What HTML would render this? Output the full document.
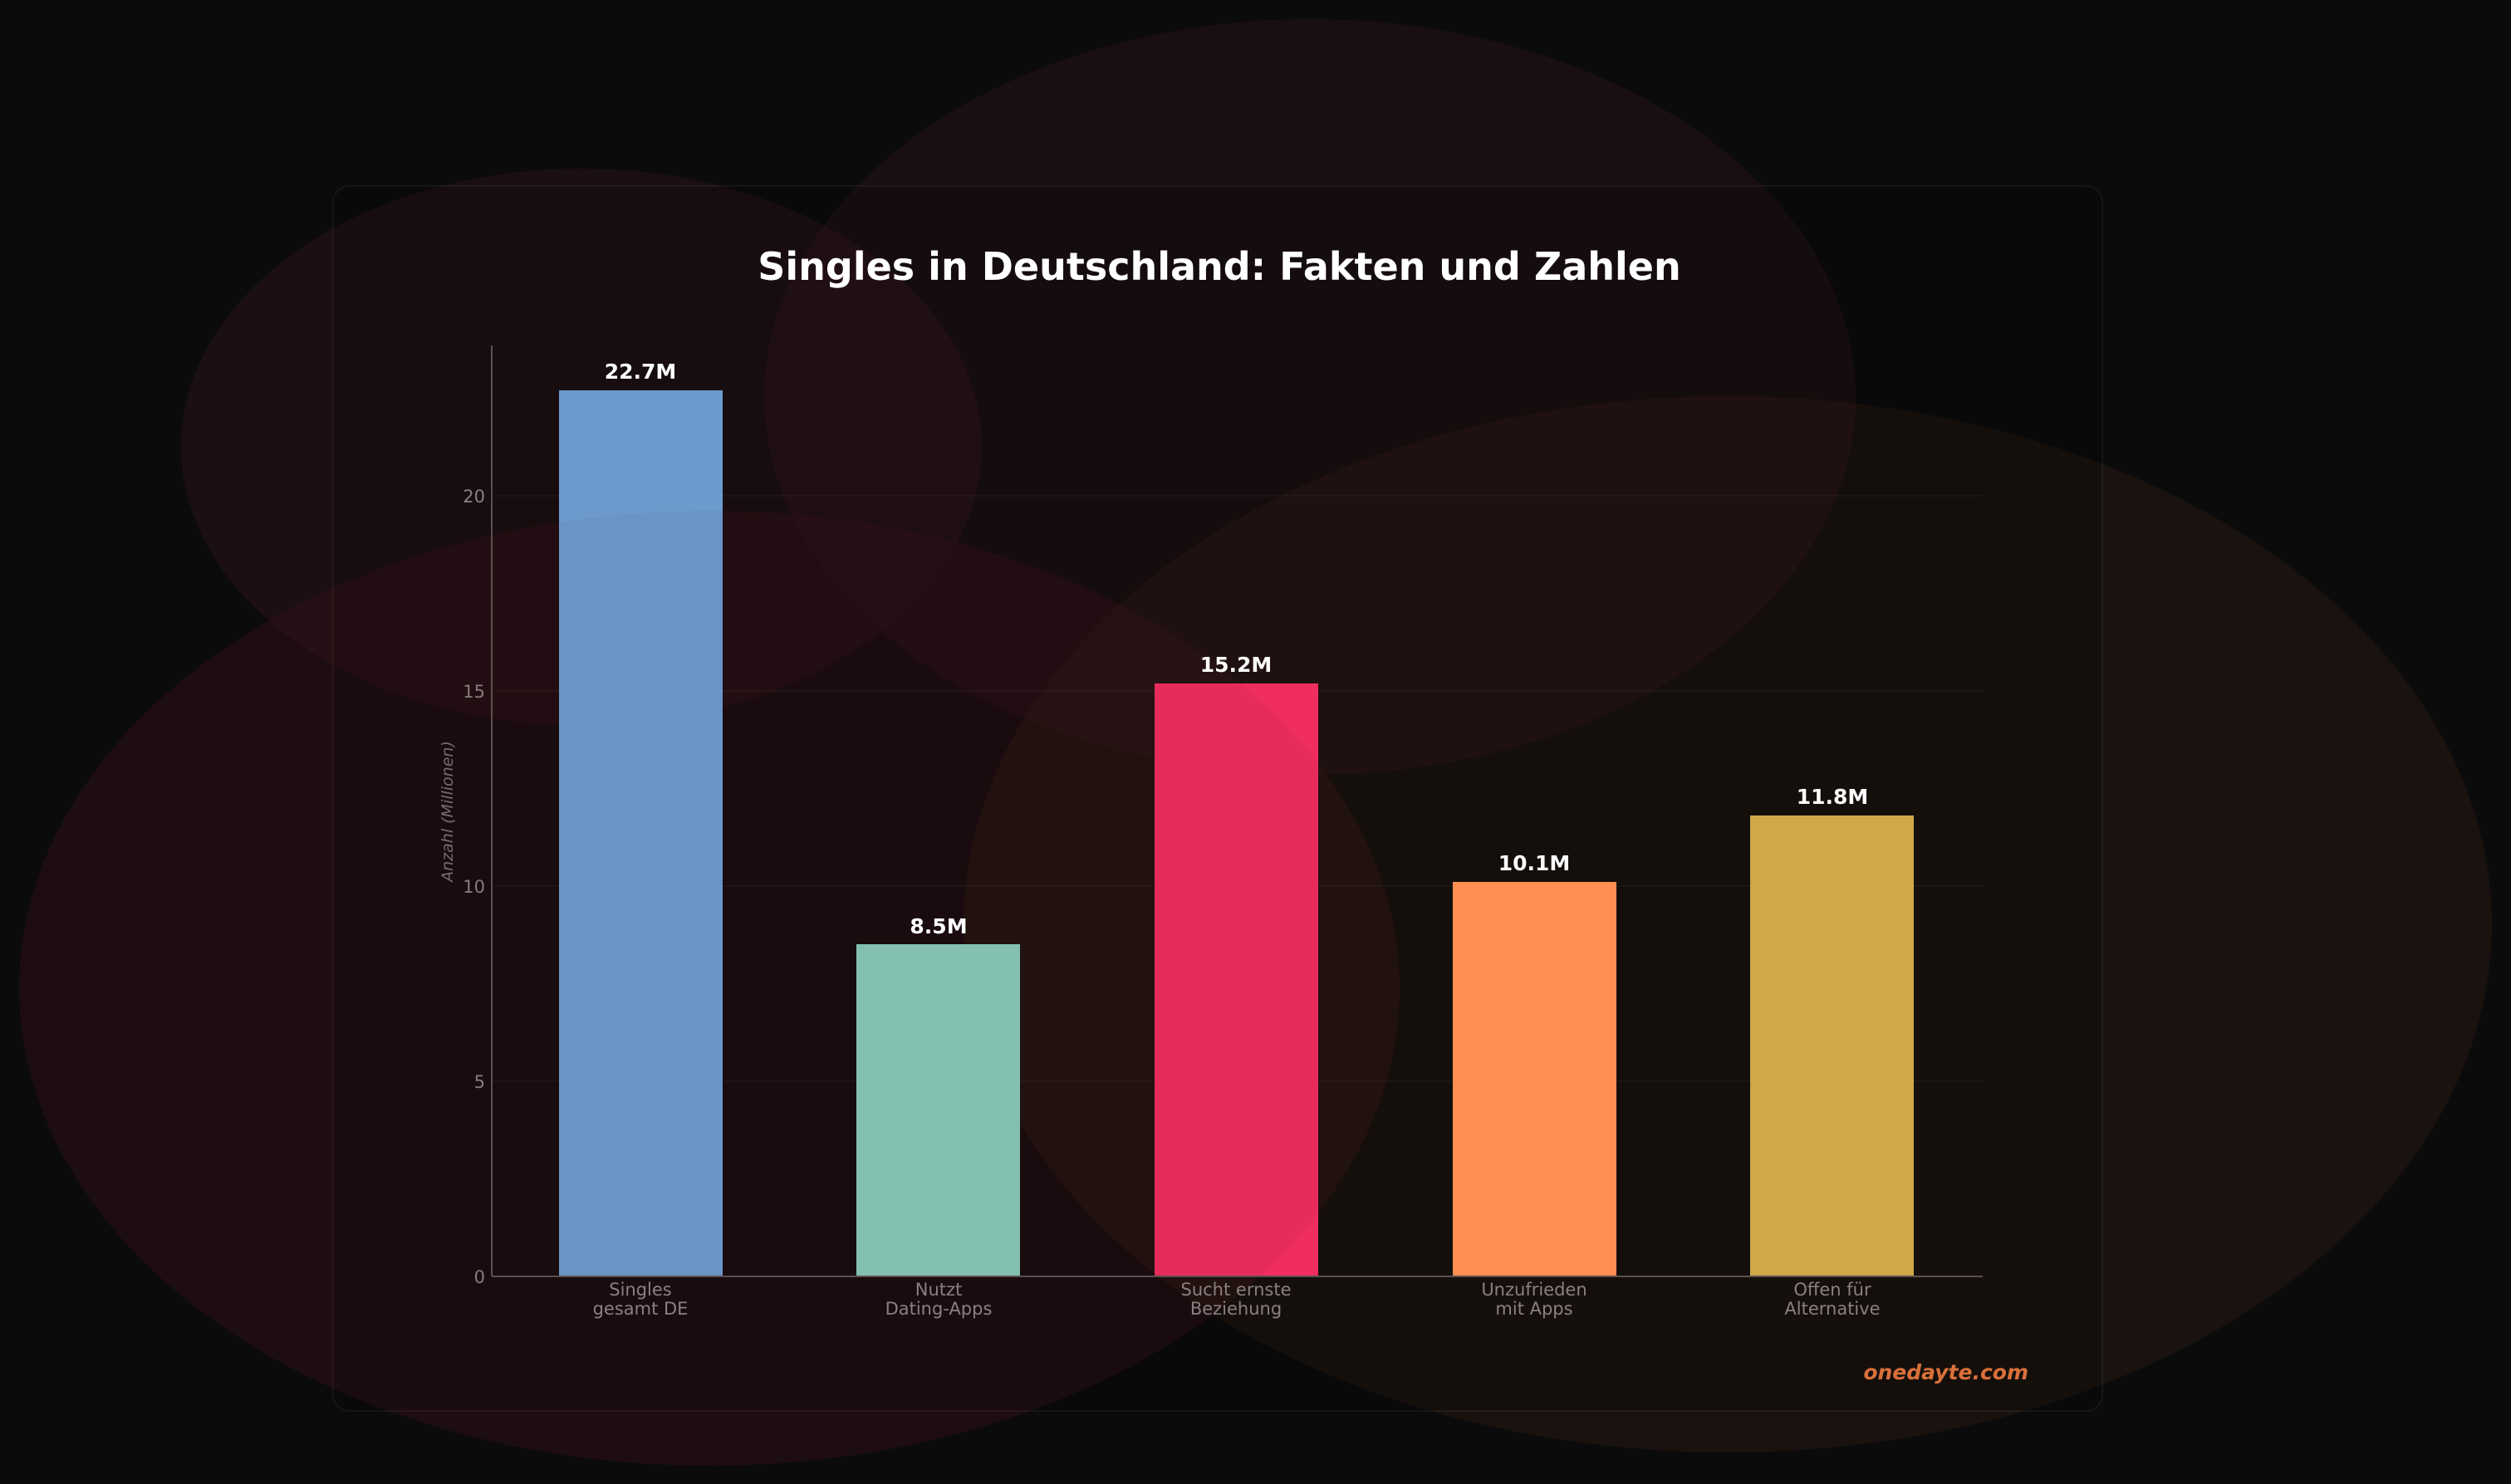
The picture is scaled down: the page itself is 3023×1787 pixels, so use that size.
<!DOCTYPE html>
<html><head><meta charset="utf-8"><style>
html,body{margin:0;padding:0;background:#0b0b0b;}
svg{display:block;font-family:"DejaVu Sans","Liberation Sans",sans-serif;}
</style></head><body>
<svg width="3023" height="1787" viewBox="0 0 3023 1787" xmlns="http://www.w3.org/2000/svg">
<rect width="3023" height="1787" fill="#0b0b0b"/>
<ellipse cx="700" cy="538" rx="482" ry="335" fill="#3a1620" fill-opacity="0.35"/>
<ellipse cx="1577" cy="478" rx="657" ry="455" fill="#3a1620" fill-opacity="0.3"/>
<ellipse cx="854" cy="1190" rx="831" ry="575" fill="#3a121c" fill-opacity="0.4"/>
<ellipse cx="2080" cy="1113" rx="920" ry="636" fill="#3a2518" fill-opacity="0.3"/>
<rect x="401" y="224" width="2130" height="1475" rx="20" fill="#000" fill-opacity="0.12" stroke="#ffffff" stroke-opacity="0.05" stroke-width="2"/>
<text x="1468" y="337" text-anchor="middle" font-size="46" font-weight="bold" fill="#ffffff">Singles in Deutschland: Fakten und Zahlen</text>
<g stroke="#ffffff" stroke-opacity="0.035" stroke-width="2">
<line x1="592" y1="1302" x2="2387" y2="1302"/>
<line x1="592" y1="1067" x2="2387" y2="1067"/>
<line x1="592" y1="832" x2="2387" y2="832"/>
<line x1="592" y1="597" x2="2387" y2="597"/>
</g>
<g font-size="21" fill="#8a8082" text-anchor="end">
<text x="584" y="1545">0</text>
<text x="584" y="1310">5</text>
<text x="584" y="1075">10</text>
<text x="584" y="840">15</text>
<text x="584" y="605">20</text>
</g>
<text transform="translate(545,977) rotate(-90)" text-anchor="middle" font-size="19" font-style="italic" fill="#7a7072">Anzahl (Millionen)</text>
<rect x="673" y="470" width="197" height="1067" fill="#6d9acc"/>
<rect x="1031" y="1137" width="197" height="400" fill="#88c7b8"/>
<rect x="1390" y="823" width="197" height="714" fill="#ef2d5e"/>
<rect x="1749" y="1062" width="197" height="475" fill="#ff8e52"/>
<rect x="2107" y="982" width="197" height="555" fill="#cfa847"/>
<ellipse cx="854" cy="1190" rx="831" ry="575" fill="#3a121c" fill-opacity="0.04"/>
<line x1="592" y1="416" x2="592" y2="1537" stroke="#5a5052" stroke-width="2"/>
<line x1="592" y1="1537" x2="2387" y2="1537" stroke="#5a5052" stroke-width="2"/>
<g font-size="25" font-weight="bold" fill="#ffffff" text-anchor="middle">
<text x="771" y="456">22.7M</text>
<text x="1130" y="1124">8.5M</text>
<text x="1488" y="809">15.2M</text>
<text x="1847" y="1048">10.1M</text>
<text x="2206" y="968">11.8M</text>
</g>
<g font-size="21" fill="#8a8082" text-anchor="middle">
<text x="771" y="1560">Singles</text><text x="771" y="1583">gesamt DE</text>
<text x="1130" y="1560">Nutzt</text><text x="1130" y="1583">Dating-Apps</text>
<text x="1488" y="1560">Sucht ernste</text><text x="1488" y="1583">Beziehung</text>
<text x="1847" y="1560">Unzufrieden</text><text x="1847" y="1583">mit Apps</text>
<text x="2206" y="1560">Offen für</text><text x="2206" y="1583">Alternative</text>
</g>
<text x="2442" y="1661" text-anchor="end" font-size="25" font-weight="bold" font-style="italic" fill="#d9703a">onedayte.com</text>
</svg>
</body></html>
